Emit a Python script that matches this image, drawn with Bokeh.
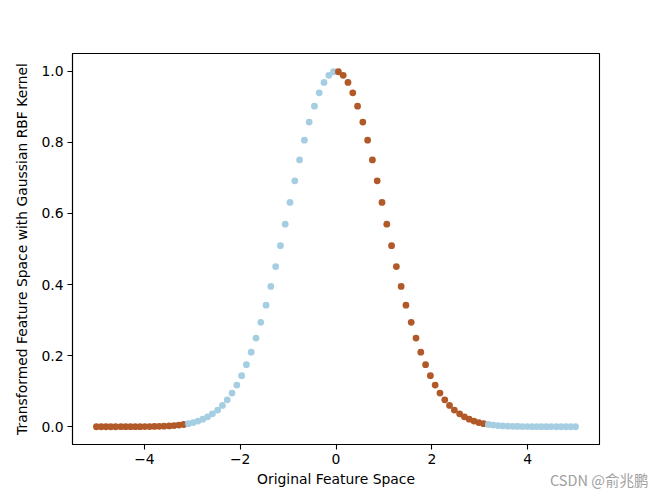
from bokeh.plotting import figure
from bokeh.models import FixedTicker, Div, ColumnDataSource
from bokeh.layouts import column
from bokeh.embed import file_html
from bokeh.resources import INLINE

# ---- data ----
x_vals = [-5.00, -4.90, -4.80, -4.70, -4.60, -4.49, -4.39, -4.29, -4.19, -4.09,
          -3.99, -3.89, -3.79, -3.69, -3.59, -3.48, -3.38, -3.28, -3.18, -3.08,
          -2.98, -2.88, -2.78, -2.68, -2.58, -2.47, -2.37, -2.27, -2.17, -2.07,
          -1.97, -1.87, -1.77, -1.67, -1.57, -1.46, -1.36, -1.26, -1.16, -1.06,
          -0.96, -0.86, -0.76, -0.66, -0.56, -0.45, -0.35, -0.25, -0.15, -0.05,
          0.05, 0.15, 0.25, 0.35, 0.45, 0.56, 0.66, 0.76, 0.86, 0.96,
          1.06, 1.16, 1.26, 1.36, 1.46, 1.57, 1.67, 1.77, 1.87, 1.97,
          2.07, 2.17, 2.27, 2.37, 2.47, 2.58, 2.68, 2.78, 2.88, 2.98,
          3.08, 3.18, 3.28, 3.38, 3.48, 3.59, 3.69, 3.79, 3.89, 3.99,
          4.09, 4.19, 4.29, 4.39, 4.49, 4.60, 4.70, 4.80, 4.90, 5.00]

y_vals = [0.0000, 0.0000, 0.0000, 0.0000, 0.0000, 0.0001, 0.0001, 0.0001, 0.0002, 0.0002,
          0.0003, 0.0005, 0.0008, 0.0011, 0.0016, 0.0023, 0.0033, 0.0046, 0.0063, 0.0087,
          0.0118, 0.0159, 0.0211, 0.0278, 0.0362, 0.0468, 0.0598, 0.0756, 0.0946, 0.1172,
          0.1437, 0.1745, 0.2096, 0.2494, 0.2936, 0.3421, 0.3947, 0.4506, 0.5093, 0.5698,
          0.6310, 0.6917, 0.7506, 0.8061, 0.8570, 0.9019, 0.9394, 0.9686, 0.9886, 0.9987,
          0.9987, 0.9886, 0.9686, 0.9394, 0.9019, 0.8570, 0.8061, 0.7506, 0.6917, 0.6310,
          0.5698, 0.5093, 0.4506, 0.3947, 0.3421, 0.2936, 0.2494, 0.2096, 0.1745, 0.1437,
          0.1172, 0.0946, 0.0756, 0.0598, 0.0468, 0.0362, 0.0278, 0.0211, 0.0159, 0.0118,
          0.0087, 0.0063, 0.0046, 0.0033, 0.0023, 0.0016, 0.0011, 0.0008, 0.0005, 0.0003,
          0.0002, 0.0002, 0.0001, 0.0001, 0.0001, 0.0000, 0.0000, 0.0000, 0.0000, 0.0000]

labels = [1, 1, 1, 1, 1, 1, 1, 1, 1, 1, 1, 1, 1, 1, 1, 1, 1, 1, 1,
          0, 0, 0, 0, 0, 0, 0, 0, 0, 0, 0, 0, 0, 0, 0, 0, 0, 0, 0, 0, 0, 0, 0, 0, 0, 0, 0, 0, 0, 0, 0,
          1, 1, 1, 1, 1, 1, 1, 1, 1, 1, 1, 1, 1, 1, 1, 1, 1, 1, 1, 1, 1, 1, 1, 1, 1, 1, 1, 1, 1, 1, 1,
          0, 0, 0, 0, 0, 0, 0, 0, 0, 0, 0, 0, 0, 0, 0, 0, 0, 0, 0]

x_ticks = [-4, -2, 0, 2, 4]
x_tick_labels = ["\u22124", "\u22122", "0", "2", "4"]
y_ticks = [0.0, 0.2, 0.4, 0.6, 0.8, 1.0]
y_tick_labels = ["0.0", "0.2", "0.4", "0.6", "0.8", "1.0"]

palette = {0: "#a6cee3", 1: "#b15928"}
colors = [palette[c] for c in labels]

FONT = "DejaVu Sans"
FS = "13.9px"

p = figure(frame_width=527, frame_height=391,
           min_border_left=72, min_border_top=53, min_border_right=58, min_border_bottom=46,
           x_range=(-5.5, 5.5), y_range=(-0.05, 1.05),
           output_backend="svg", toolbar_location=None,
           background_fill_color="white", border_fill_color="white")

src = ColumnDataSource(dict(x=x_vals, y=y_vals, c=colors))
p.scatter("x", "y", source=src, size=6.8, fill_color="c", line_color="c", line_width=0)

p.xgrid.visible = False
p.ygrid.visible = False
p.outline_line_color = "black"
p.outline_line_width = 1.1

p.xaxis.ticker = FixedTicker(ticks=x_ticks)
p.xaxis.major_label_overrides = {t: l for t, l in zip(x_ticks, x_tick_labels)}
p.yaxis.ticker = FixedTicker(ticks=y_ticks)
p.yaxis.major_label_overrides = {t: l for t, l in zip(y_ticks, y_tick_labels)}

for ax in (p.xaxis[0], p.yaxis[0]):
    ax.axis_line_color = "black"
    ax.axis_line_width = 1.1
    ax.major_tick_line_color = "black"
    ax.major_tick_line_width = 1.1
    ax.major_tick_out = 5
    ax.major_tick_in = 0
    ax.minor_tick_out = 0
    ax.minor_tick_in = 0
    ax.major_label_text_font = FONT
    ax.major_label_text_font_size = FS
    ax.major_label_text_color = "black"
    ax.axis_label_text_font = FONT
    ax.axis_label_text_font_size = FS
    ax.axis_label_text_font_style = "normal"
    ax.axis_label_text_color = "black"
    ax.major_label_standoff = 4

p.xaxis.axis_label = "Original Feature Space"
p.yaxis.axis_label = "Transformed Feature Space with Gaussian RBF Kernel"
p.xaxis.axis_label_standoff = 4
p.yaxis.axis_label_standoff = 8

wm = Div(text="CSDN @俞兆鹏", margin=(-20, 0, 0, 550),
         styles={"color": "#a0a0a0", "font-family": "'Noto Sans CJK SC'",
                 "font-size": "14.5px", "white-space": "nowrap"})

layout = column(p, wm, spacing=0)

open("out.html", "w").write(file_html(layout, INLINE))
